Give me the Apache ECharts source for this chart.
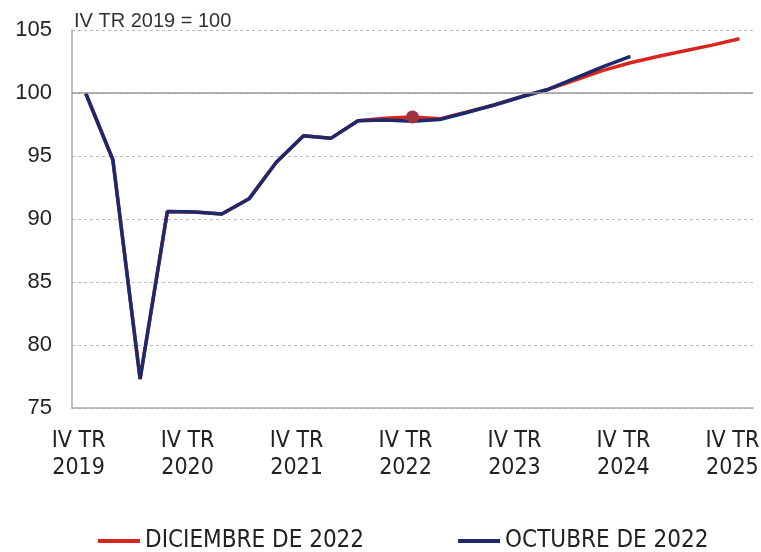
<!DOCTYPE html>
<html>
<head>
<meta charset="utf-8">
<script src="https://cdn.jsdelivr.net/npm/echarts@6/dist/echarts.min.js"></script>
<style>
  html, body { margin: 0; padding: 0; background: #fff; }
  #chart { width: 761px; height: 552px; }
</style>
</head>
<body>
<div id="chart"></div>
<script>
// trimestres IV TR 2019 .. IV TR 2025
var quarters = ['IV TR 2019', 'I TR 2020', 'II TR 2020', 'III TR 2020', 'IV TR 2020',
  'I TR 2021', 'II TR 2021', 'III TR 2021', 'IV TR 2021',
  'I TR 2022', 'II TR 2022', 'III TR 2022', 'IV TR 2022',
  'I TR 2023', 'II TR 2023', 'III TR 2023', 'IV TR 2023',
  'I TR 2024', 'II TR 2024', 'III TR 2024', 'IV TR 2024',
  'I TR 2025', 'II TR 2025', 'III TR 2025', 'IV TR 2025']

// previsiones de diciembre de 2022
var diciembre = [100, 94.7, 77.3, 90.6, 90.55, 90.4, 91.6, 94.5, 96.6, 96.4, 97.8, 98.0, 98.1,
  97.95, 98.5, 99.05, 99.7, 100.3, 101.05, 101.8, 102.4, 102.9, 103.35, 103.8, 104.3]

// previsiones de octubre de 2022
var octubre = [100, 94.7, 77.3, 90.6, 90.55, 90.4, 91.6, 94.5, 96.6, 96.4, 97.8, 97.85, 97.75,
  97.9, 98.45, 99.05, 99.7, 100.3, 101.2, 102.1, 102.9]

var yTicks = [75, 80, 85, 90, 95, 100, 105]

var narrow = 'DejaVu Sans Condensed'

var chart = echarts.init(document.getElementById('chart'))

// el punto del IV TR 2022 va marcado en la serie de diciembre
var redData = diciembre.map(function (v, i) {
  if (i === 12) {
    return { value: v, symbol: 'circle', symbolSize: 13, itemStyle: { color: '#a3323f' } }
  }
  return v
})

chart.setOption({
  animation: false,
  color: ['#d7261e', '#1c2a6c'],
  title: {
    text: 'IV TR 2019 = 100',
    left: 69,
    top: 6,
    textStyle: { fontFamily: 'Liberation Sans', fontSize: 20, fontWeight: 'normal', color: '#333' }
  },
  grid: { left: 72, right: 8, top: 30, bottom: 144, outerBoundsMode: 'none', containLabel: false },
  xAxis: {
    type: 'category',
    data: quarters,
    boundaryGap: true,
    axisLine: { lineStyle: { color: '#aaa', width: 1.5 } },
    axisTick: { interval: 3, inside: true, length: 8, lineStyle: { color: '#aaa' } },
    axisLabel: {
      interval: 3,
      margin: 20,
      padding: [0, 14, 0, 0],
      fontFamily: narrow,
      fontSize: 23,
      lineHeight: 27,
      color: '#222',
      hideOverlap: false,
      formatter: function (v) {
        var p = v.split(' ')
        return p[0] + ' ' + p[1] + '\n' + p[2]
      }
    }
  },
  yAxis: {
    type: 'value',
    min: yTicks[0],
    max: yTicks[yTicks.length - 1],
    interval: 5,
    axisLine: { show: true, lineStyle: { color: '#aaa', width: 1.5 } },
    axisTick: { show: false },
    axisLabel: { margin: 20, fontFamily: 'Liberation Sans', fontSize: 22, color: '#222' },
    splitLine: { lineStyle: { color: '#bbb', type: [3, 3] } }
  },
  legend: {
    orient: 'horizontal',
    top: 524,
    left: 93,
    width: 670,
    icon: 'rect',
    itemWidth: 42,
    itemHeight: 4,
    itemGap: 94,
    textStyle: { fontFamily: narrow, fontSize: 24, color: '#222' },
    data: ['DICIEMBRE DE 2022', 'OCTUBRE DE 2022']
  },
  series: [
    {
      name: 'DICIEMBRE DE 2022',
      type: 'line',
      symbol: 'none',
      data: redData,
      lineStyle: { width: 3.5 },
      markLine: {
        silent: true,
        symbol: 'none',
        label: { show: false },
        lineStyle: { color: '#999', type: 'solid', width: 1.5 },
        data: [{ yAxis: 100 }]
      }
    },
    {
      name: 'OCTUBRE DE 2022',
      type: 'line',
      symbol: 'none',
      data: octubre,
      lineStyle: { width: 3.5 }
    }
  ]
})
</script>
</body>
</html>
